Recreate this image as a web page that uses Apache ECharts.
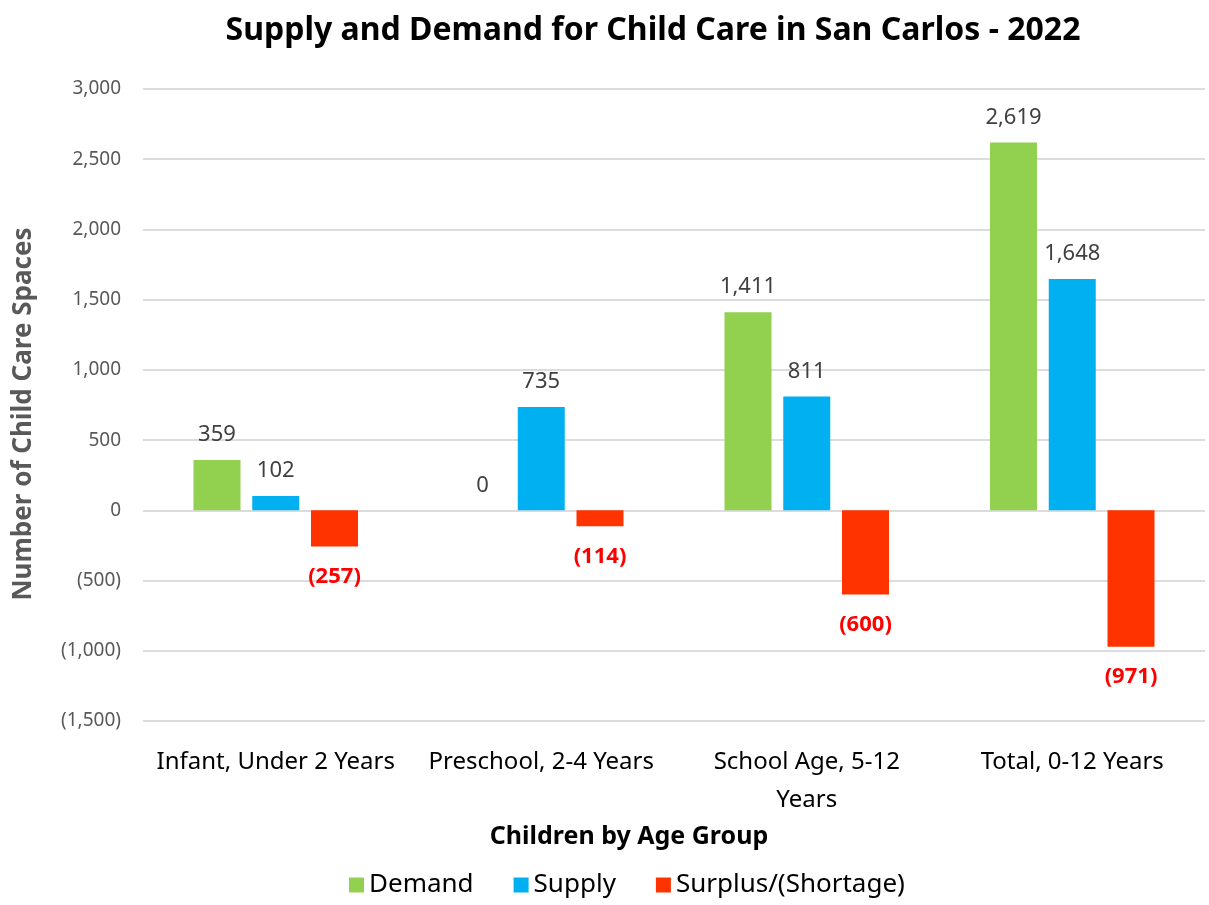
<!DOCTYPE html>
<html>
<head>
<meta charset="utf-8">
<script src="https://cdn.jsdelivr.net/npm/echarts@6/dist/echarts.min.js"></script>
<style>
  html, body { margin: 0; padding: 0; background: #fff; }
  #chart { width: 1209px; height: 905px; }
</style>
</head>
<body>
<div id="chart"></div>
<script>
// data
const categories = ['Infant, Under 2 Years', 'Preschool, 2-4 Years', 'School Age, 5-12\nYears', 'Total, 0-12 Years'];
const demand = [359, 0, 1411, 2619];
const supply = [102, 735, 811, 1648];
const surplus = [-257, -114, -600, -971];

const FONT = 'Noto Sans';

function fmt(v) {
  let s = Math.abs(v).toLocaleString('en-US');
  return v < 0 ? '(' + s + ')' : s;
}

const chart = echarts.init(document.getElementById('chart'));

const posLabel = {
  show: true,
  position: 'top',
  distance: 14,
  color: '#404040',
  fontSize: 22,
  fontFamily: FONT,
  formatter: p => fmt(p.value)
};

chart.setOption({
  animation: false,
  title: {
    text: 'Supply and Demand for Child Care in San Carlos - 2022',
    left: 648,
    textAlign: 'center',
    top: 10,
    textStyle: { fontSize: 32, fontWeight: 'bold', color: '#000', fontFamily: FONT }
  },
  legend: {
    bottom: 2,
    left: 344,
    itemWidth: 15,
    itemHeight: 15,
    itemGap: 40,
    icon: 'rect',
    textStyle: { fontSize: 26, color: '#000', fontFamily: FONT }
  },
  grid: { left: 143, right: 4, top: 89, bottom: 184 },
  xAxis: {
    type: 'category',
    data: categories,
    axisTick: { show: false },
    axisLine: { show: false },
    axisLabel: { fontSize: 24, color: '#000', fontFamily: FONT, margin: 22, lineHeight: 38, interval: 0 },
    name: 'Children by Age Group',
    nameLocation: 'middle',
    nameGap: 98,
    nameTextStyle: { fontSize: 25, fontWeight: 'bold', color: '#000', fontFamily: FONT, padding: [0, 90, 0, 0] }
  },
  yAxis: {
    type: 'value',
    min: -1500,
    max: 3000,
    interval: 500,
    axisLine: { show: false },
    axisTick: { show: false },
    splitLine: { lineStyle: { color: '#d0d0d0', width: 1.5 } },
    axisLabel: { fontSize: 19, color: '#595959', fontFamily: FONT, margin: 22, formatter: v => fmt(v) },
    name: 'Number of Child Care Spaces',
    nameLocation: 'middle',
    nameGap: 106,
    nameTextStyle: { fontSize: 26, fontWeight: 'bold', color: '#595959', fontFamily: FONT, padding: [0, 18, 0, 0] }
  },
  series: [
    {
      name: 'Demand', type: 'bar', data: demand,
      barWidth: 47, barGap: '25%',
      itemStyle: { color: '#92d050' },
      label: posLabel
    },
    {
      name: 'Supply', type: 'bar', data: supply,
      barWidth: 47, barGap: '25%',
      itemStyle: { color: '#00b0f0' },
      label: posLabel
    },
    {
      name: 'Surplus/(Shortage)', type: 'bar', data: surplus,
      barWidth: 47, barGap: '25%',
      itemStyle: { color: '#ff3300' },
      label: {
        show: true,
        position: 'bottom',
        distance: 19,
        color: '#ff0000',
        fontWeight: 'bold',
        fontSize: 22,
        fontFamily: FONT,
        formatter: p => fmt(p.value)
      }
    }
  ]
});
</script>
</body>
</html>
